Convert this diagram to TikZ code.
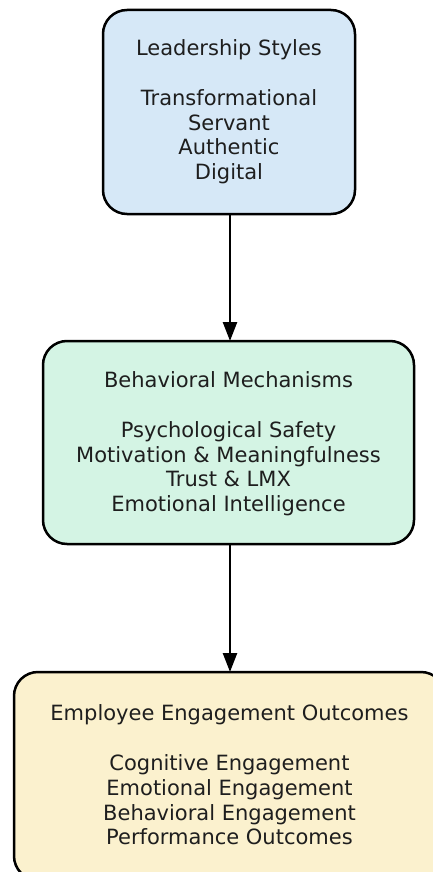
\documentclass[tikz,border=0pt]{standalone}
\usepackage{fontspec}
\setmainfont{DejaVu Sans}
\usetikzlibrary{arrows.meta}
\definecolor{cblue}{HTML}{D6E8F7}
\definecolor{cgreen}{HTML}{D4F4E4}
\definecolor{cyellow}{HTML}{FBF1CE}
\definecolor{ctext}{HTML}{1E1E1E}
\tikzset{
  boxstyle/.style={draw=black, line width=2.5pt, rounded corners=24pt},
  txt/.style={align=center, text=ctext, font=\fontsize{21}{24.8}\selectfont},
  conn/.style={line width=2.5pt, -{Stealth[length=19pt,width=14pt,inset=0pt]}}
}
\begin{document}
\begin{tikzpicture}[x=1pt,y=-1pt]
\useasboundingbox (0,0) rectangle (433,872);
\clip (0,0) rectangle (433,872);
\fill[white] (0,0) rectangle (433,872);
\draw[boxstyle, fill=cblue] (103,10) rectangle (355,214);
\draw[boxstyle, fill=cgreen] (43,341) rectangle (414,544);
\draw[boxstyle, fill=cyellow] (14,672) rectangle (445,880);
\node[txt] (t1) at (229,112) {Leadership Styles\\[24.8pt]Transformational\\Servant\\Authentic\\Digital};
\node[txt] (t2) at (228.5,444) {Behavioral Mechanisms\\[24.8pt]Psychological Safety\\Motivation \& Meaningfulness\\Trust \& LMX\\Emotional Intelligence};
\node[txt] (t3) at (229.5,775) {Employee Engagement Outcomes\\[24.8pt]Cognitive Engagement\\Emotional Engagement\\Behavioral Engagement\\Performance Outcomes};
\coordinate (a1) at (230,214);
\coordinate (b1) at (230,341);
\coordinate (a2) at (230,544);
\coordinate (b2) at (230,672);
\draw[conn] (a1) -- (b1);
\draw[conn] (a2) -- (b2);
\end{tikzpicture}
\end{document}
